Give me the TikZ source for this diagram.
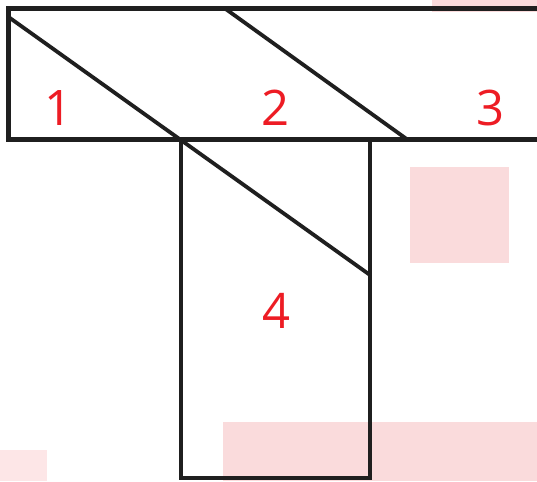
\documentclass[tikz,border=0pt]{standalone}
\usepackage{fontspec}
\setsansfont{Open Sans}
\begin{document}
\begin{tikzpicture}[
  x=1pt, y=-1pt,
  patch/.style={fill=patchpink, draw=none},
  rim/.style={draw=black!88, line width=5pt},
  seam/.style={draw=black!88, line width=3.8pt},
  num/.style={font=\sffamily\fontsize{49}{49}\selectfont, text=numred, inner sep=0pt},
]
\definecolor{numred}{HTML}{ED1C24}
\definecolor{patchpink}{HTML}{FADBDC}
\definecolor{patchlight}{HTML}{FDE6E7}

\useasboundingbox (0,0) rectangle (537,481);

% ===== Pink patches =====
\fill[patch] (432,0) rectangle (537,12);
\fill[patch] (410,167) rectangle (509,263);
\fill[patch] (223,422) rectangle (537,481);
\fill[fill=patchlight] (0,450) rectangle (47,481);

% ===== Corners =====
\coordinate (tl) at (8.5,8.5);
\coordinate (tr) at (537,8.5);
\coordinate (bl) at (8.5,140);
\coordinate (br) at (537,140);
\coordinate (sl) at (181,140);
\coordinate (sr) at (370,140);
\coordinate (fl) at (181,478);
\coordinate (fr) at (370,478);

% ===== Outline =====
\draw[rim] (tr) -- (tl) -- (bl) -- (br);
\draw[seam, line cap=rect] (sl) -- (fl) -- (fr) -- (sr);

% ===== Cuts =====
\coordinate (c1) at (8.5,17);
\coordinate (c2) at (370,275);
\coordinate (c3) at (225,8.5);
\coordinate (c4) at (408,140);
\draw[seam] (c1) -- (c2);
\draw[seam] (c3) -- (c4);

% ===== Labels =====
\node[num] (n1) at (59,108) {1};
\node[num] (n2) at (276,108) {2};
\node[num] (n3) at (490,108) {3};
\node[num] (n4) at (277,311) {4};

\end{tikzpicture}
\end{document}
